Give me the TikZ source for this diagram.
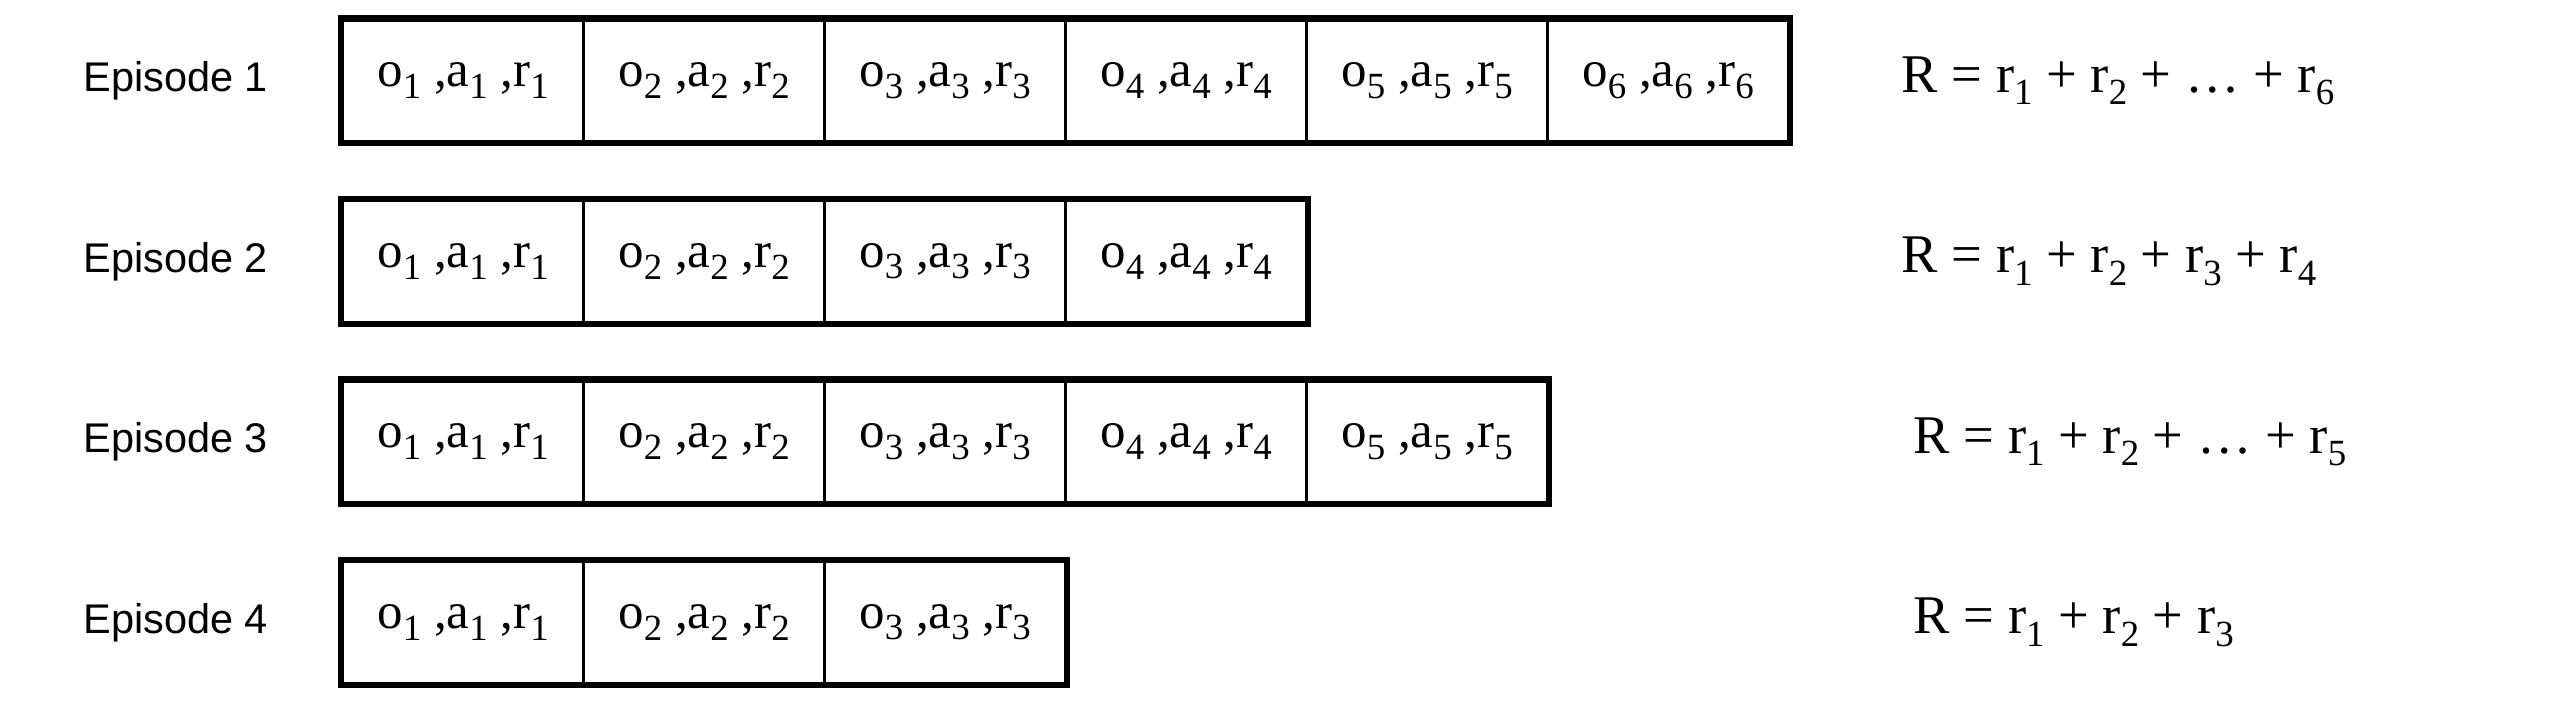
\documentclass[tikz,border=0pt]{standalone}
\usepackage{fontspec}
\setmainfont{Liberation Serif}
\newfontfamily\labelfont{Liberation Sans}
\usetikzlibrary{positioning}
\newcommand{\lowix}[1]{\raisebox{-0.5ex}{\fontsize{10.5}{10.5}\selectfont #1}}
\tikzset{
  every picture/.style={line width=1pt},
  cell/.style={draw, minimum width=2.41cm, minimum height=1.22cm, inner sep=0pt, font=\fontsize{14.5}{16}\selectfont},
  frame/.style={line width=1.6pt},
  eplabel/.style={anchor=west, inner sep=0pt, font=\labelfont\fontsize{11.8}{13}\selectfont},
  sumlabel/.style={anchor=west, inner sep=0pt, font=\fontsize{15.5}{17}\selectfont},
}

\begin{document}
\begin{tikzpicture}
  \useasboundingbox (0,0) rectangle (25.58,-7);
  % episodes: label, one cell per step, heavy frame round the row
  \foreach \len [count=\row] in {6,4,5,3} {
    \node[eplabel] (ep\row) at (0.816,{-0.808-1.805*(\row-1)}) {Episode \row};
    \foreach \k in {1,...,\len}
      \node[cell] (c\row-\k) at ({3.426+2.41*(\k-0.5)},{-0.808-1.805*(\row-1)}) {o\lowix{\k} ,a\lowix{\k} ,r\lowix{\k}};
    \draw[frame] (c\row-1.north west) rectangle (c\row-\len.south east);
  }
  % returns
  \node[sumlabel] (sum1) at (19.0,-0.808) {R = r\lowix{1} + r\lowix{2} + \ldots{} + r\lowix{6}};
  \node[sumlabel] (sum2) at (19.0,-2.613) {R = r\lowix{1} + r\lowix{2} + r\lowix{3} + r\lowix{4}};
  \node[sumlabel] (sum3) at (19.12,-4.418) {R = r\lowix{1} + r\lowix{2} + \ldots{} + r\lowix{5}};
  \node[sumlabel] (sum4) at (19.12,-6.223) {R = r\lowix{1} + r\lowix{2} + r\lowix{3}};
\end{tikzpicture}
\end{document}
